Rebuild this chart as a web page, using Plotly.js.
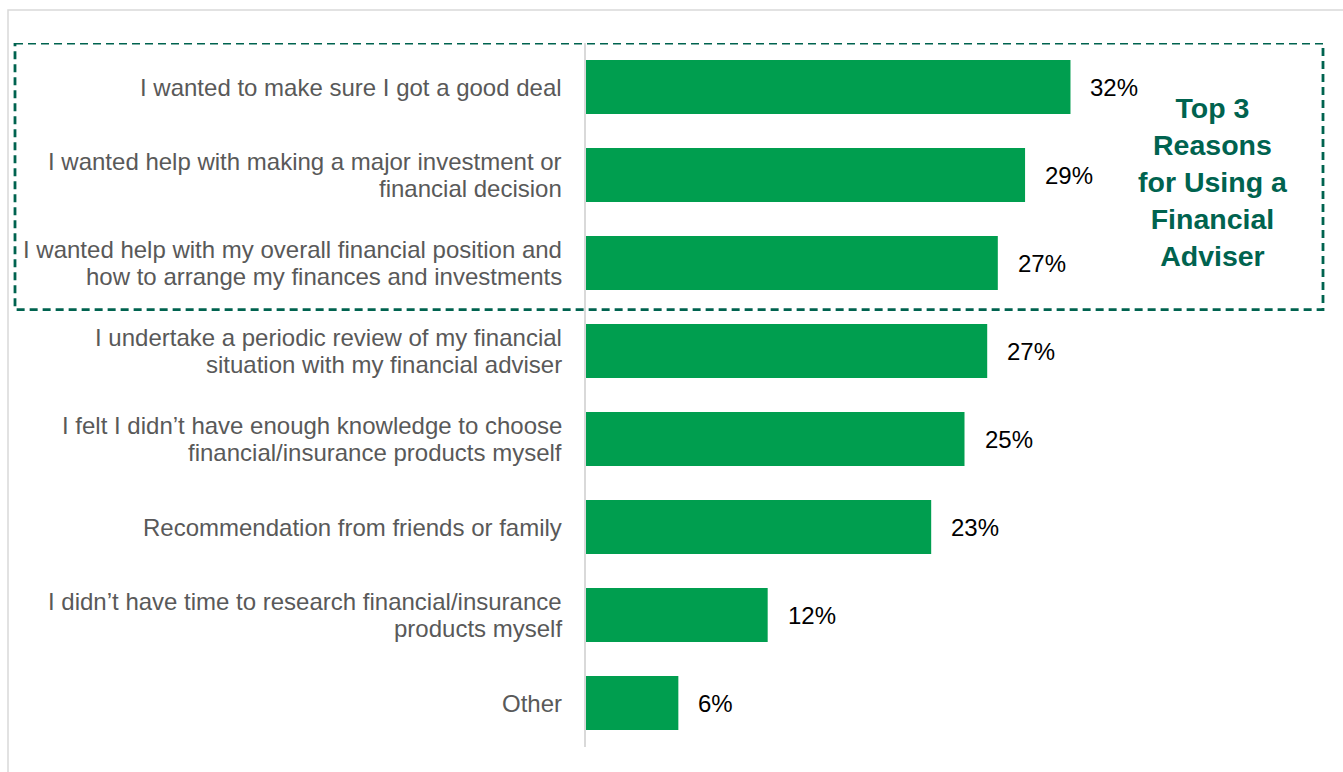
<!DOCTYPE html>
<html>
<head>
<meta charset="utf-8">
<script src="https://cdn.plot.ly/plotly-3.0.1.min.js"></script>
<style>
html,body{margin:0;padding:0;background:#fff;}
#chart{width:1343px;height:772px;}
</style>
</head>
<body>
<div id="chart"></div>
<script>
// ---- data ----
const categories = [
  "I wanted to make sure I got a good deal",
  "I wanted help with making a major investment or<br>financial decision",
  "I wanted help with my overall financial position and<br>how to arrange my finances and investments",
  "I undertake a periodic review of my financial<br>situation with my financial adviser",
  "I felt I didn\u2019t have enough knowledge to choose<br>financial/insurance products myself",
  "Recommendation from friends or family",
  "I didn\u2019t have time to research financial/insurance<br>products myself",
  "Other"
];
const values = [32.0, 29.0, 27.2, 26.5, 25.0, 22.8, 12.0, 6.1];
const valueLabels = ["32%", "29%", "27%", "27%", "25%", "23%", "12%", "6%"];
const calloutText = "Top 3<br>Reasons<br>for Using a<br>Financial<br>Adviser";
const top3Count = 3;

// ---- layout constants ----
const W = 1343, H = 772;
const mL = 586, mR = 20, mT = 43, mB = 25;
const plotW = W - mL - mR;
const plotH = H - mT - mB;
const pxPerUnit = 15.14;
const xMax = plotW / pxPerUnit;
const px2paperX = p => (p - mL) / plotW;
const px2paperY = p => 1 - (p - mT) / plotH;

const green = "#009E4F";
const teal = "#00634F";
const labelGray = "#595959";
const FONT = "Liberation Sans, Arial, sans-serif";
const lineH = 27;

const yIdx = categories.map((c, i) => i);

const annotations = [];
// category labels, one annotation per line
categories.forEach((c, i) => {
  const lines = c.split("<br>");
  const n = lines.length;
  lines.forEach((ln, j) => {
    annotations.push({
      xref: "paper", yref: "y", x: 0, y: i,
      xanchor: "right", yanchor: "middle",
      xshift: -22, yshift: ((n - 1) / 2 - j) * lineH,
      text: ln, showarrow: false,
      font: {family: FONT, size: 24, color: labelGray}
    });
  });
});
// value labels
values.forEach((v, i) => {
  annotations.push({
    xref: "x", yref: "y", x: v, y: i,
    xanchor: "left", yanchor: "middle", xshift: 18,
    text: valueLabels[i], showarrow: false,
    font: {family: FONT, size: 24, color: "#000000"}
  });
});
// callout text
annotations.push({
  xref: "paper", yref: "paper",
  x: px2paperX(1213), y: px2paperY(181.5),
  xanchor: "center", yanchor: "middle",
  text: "<b>" + calloutText + "</b>", showarrow: false, align: "center",
  font: {family: FONT, size: 28.5, color: teal}
});

const shapes = [
  // outer light border
  {type: "rect", xref: "paper", yref: "paper",
   x0: px2paperX(8), x1: px2paperX(1360), y0: px2paperY(790), y1: px2paperY(10),
   line: {color: "#D9D9D9", width: 1.5}, fillcolor: "rgba(0,0,0,0)", layer: "below"},
  // dashed highlight box around top 3
  {type: "rect", xref: "paper", yref: "y",
   x0: px2paperX(15), x1: px2paperX(1323), y0: -0.5, y1: top3Count - 0.47,
   line: {color: teal, width: 2.8, dash: "8px,5px"}, fillcolor: "rgba(0,0,0,0)", layer: "above"}
];

const trace = {
  type: "bar", orientation: "h",
  x: values, y: yIdx,
  marker: {color: green},
  hoverinfo: "skip"
};

const layout = {
  width: W, height: H,
  margin: {l: mL, r: mR, t: mT, b: mB, pad: 0},
  paper_bgcolor: "#ffffff", plot_bgcolor: "#ffffff",
  showlegend: false,
  bargap: 0.386,
  xaxis: {range: [0, xMax], showgrid: false, zeroline: false, showticklabels: false,
          showline: false, ticks: "", fixedrange: true},
  yaxis: {range: [categories.length - 0.5, -0.5], showgrid: false, zeroline: false,
          showticklabels: false, ticks: "", showline: true, linecolor: "#D9D9D9",
          linewidth: 2, fixedrange: true, tickmode: "array", tickvals: yIdx},
  annotations: annotations,
  shapes: shapes,
  font: {family: FONT}
};

Plotly.newPlot("chart", [trace], layout, {displayModeBar: false, staticPlot: true});
</script>
</body>
</html>
